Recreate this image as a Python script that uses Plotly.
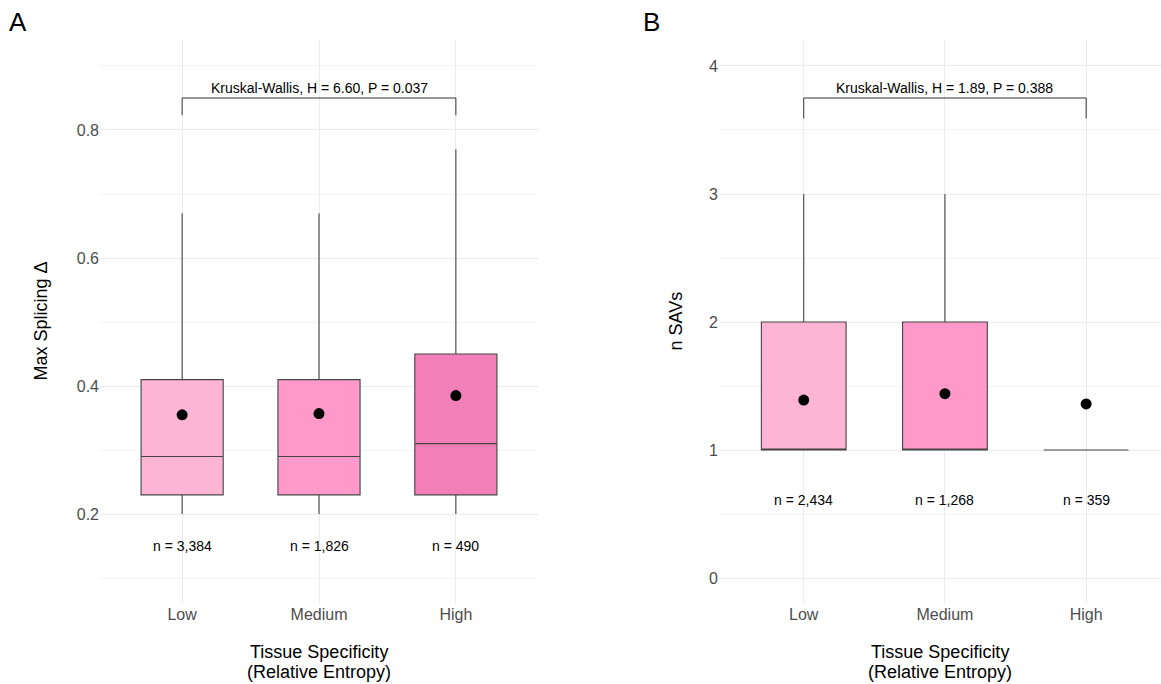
import plotly.graph_objects as go

categories = ["Low", "Medium", "High"]
fill_colors = ["#FEB4D3", "#FF99C9", "#F27FB7"]

# Panel A: Max Splicing Δ
a_lower = [0.20, 0.20, 0.20]
a_q1 = [0.23, 0.23, 0.23]
a_median = [0.29, 0.29, 0.31]
a_q3 = [0.41, 0.41, 0.45]
a_upper = [0.67, 0.67, 0.77]
a_mean = [0.355, 0.357, 0.385]
a_n = ["n = 3,384", "n = 1,826", "n = 490"]
a_test = "Kruskal-Wallis, H = 6.60, P = 0.037"

# Panel B: n SAVs
b_lower = [1, 1, 1]
b_q1 = [1, 1, 1]
b_median = [1, 1, 1]
b_q3 = [2, 2, 1]
b_upper = [3, 3, 1]
b_mean = [1.39, 1.44, 1.36]
b_n = ["n = 2,434", "n = 1,268", "n = 359"]
b_test = "Kruskal-Wallis, H = 1.89, P = 0.388"

FONT = "Liberation Sans, Arial, sans-serif"
W, H = 1161, 684
fig = go.Figure()

xpos = list(range(len(categories)))
ann_font = dict(size=14, color="black", family=FONT)

def add_panel(xa, ya, lower, q1, med, q3, upper, mean, nlab, ny, test, bracket_top, bracket_leg, text_y):
    for i in xpos:
        fig.add_trace(go.Box(
            x=[i], lowerfence=[lower[i]], q1=[q1[i]], median=[med[i]], q3=[q3[i]],
            upperfence=[upper[i]], width=0.6, whiskerwidth=0,
            fillcolor=fill_colors[i], line=dict(color="#444444", width=1.1),
            boxpoints=False, showlegend=False, xaxis=xa, yaxis=ya, hoverinfo="skip"))
    fig.add_trace(go.Scatter(
        x=xpos, y=mean, mode="markers", marker=dict(color="black", size=11),
        showlegend=False, xaxis=xa, yaxis=ya, hoverinfo="skip"))
    fig.add_trace(go.Scatter(
        x=[0, 0, 2, 2], y=[bracket_leg, bracket_top, bracket_top, bracket_leg],
        mode="lines", line=dict(color="#333333", width=1),
        showlegend=False, xaxis=xa, yaxis=ya, hoverinfo="skip"))
    for i in xpos:
        fig.add_annotation(x=i, y=ny, xref=xa, yref=ya, text=nlab[i], showarrow=False,
                           xanchor="center", yanchor="middle", font=ann_font)
    fig.add_annotation(x=1, y=text_y, xref=xa, yref=ya, text=test, showarrow=False,
                       xanchor="center", yanchor="middle", font=ann_font)

add_panel("x", "y", a_lower, a_q1, a_median, a_q3, a_upper, a_mean, a_n, 0.15,
          a_test, 0.85, 0.823, 0.866)
add_panel("x2", "y2", b_lower, b_q1, b_median, b_q3, b_upper, b_mean, b_n, 0.61,
          b_test, 3.75, 3.59, 3.83)

ytop = 1 - 40 / H
ybot = 1 - 603 / H
grid_major = "#EBEBEB"
grid_minor = "#F4F4F4"
tickfont = dict(size=16, color="#4D4D4D", family=FONT)

common_x = dict(tickvals=xpos, ticktext=categories, showgrid=True, gridcolor=grid_major,
                gridwidth=1, zeroline=False, showline=False, ticks="", tickfont=tickfont,
                fixedrange=True)
fig.update_layout(
    width=W, height=H, margin=dict(l=0, r=0, t=0, b=0),
    paper_bgcolor="white", plot_bgcolor="white",
    font=dict(family=FONT),
    xaxis=dict(domain=[100 / W, 538 / W], range=[-0.6, 2.6], anchor="y", **common_x),
    xaxis2=dict(domain=[719 / W, 1.0], range=[-0.6, 2.53], anchor="y2", **common_x),
    yaxis=dict(domain=[ybot, ytop], range=[0.061, 0.9406], tickvals=[0.2, 0.4, 0.6, 0.8],
               ticktext=["0.2", "0.4", "0.6", "0.8"], showgrid=True, gridcolor=grid_major,
               gridwidth=1, zeroline=False, ticks="", tickfont=tickfont, anchor="x",
               minor=dict(tickvals=[0.1, 0.3, 0.5, 0.7, 0.9], showgrid=True,
                          gridcolor=grid_minor, gridwidth=1)),
    yaxis2=dict(domain=[ybot, ytop], range=[-0.195, 4.203], tickvals=[0, 1, 2, 3, 4],
                showgrid=True, gridcolor=grid_major, gridwidth=1, zeroline=False, ticks="",
                tickfont=tickfont, anchor="x2",
                minor=dict(tickvals=[0.5, 1.5, 2.5, 3.5], showgrid=True,
                           gridcolor=grid_minor, gridwidth=1)),
)

# axis titles and panel tags
title_font = dict(size=18, color="black", family=FONT)
for xc in [(100 + 538) / 2 / W, (719 + 1161) / 2 / W]:
    for line, ypx in [("Tissue Specificity", 652), ("(Relative Entropy)", 672)]:
        fig.add_annotation(x=xc, y=1 - ypx / H, xref="paper", yref="paper",
                           text=line, showarrow=False,
                           xanchor="center", yanchor="middle", font=title_font)
fig.add_annotation(x=40 / W, y=(ybot + ytop) / 2, xref="paper", yref="paper",
                   text="Max Splicing Δ", textangle=-90, showarrow=False,
                   xanchor="center", yanchor="middle", font=title_font)
fig.add_annotation(x=675 / W, y=(ybot + ytop) / 2, xref="paper", yref="paper",
                   text="n SAVs", textangle=-90, showarrow=False,
                   xanchor="center", yanchor="middle", font=title_font)
fig.add_annotation(x=18 / W, y=1 - 22 / H, xref="paper", yref="paper", text="A",
                   showarrow=False, xanchor="center", yanchor="middle",
                   font=dict(size=26, color="black", family=FONT))
fig.add_annotation(x=651 / W, y=1 - 22 / H, xref="paper", yref="paper", text="B",
                   showarrow=False, xanchor="center", yanchor="middle",
                   font=dict(size=26, color="black", family=FONT))

fig.write_html("out.html")
